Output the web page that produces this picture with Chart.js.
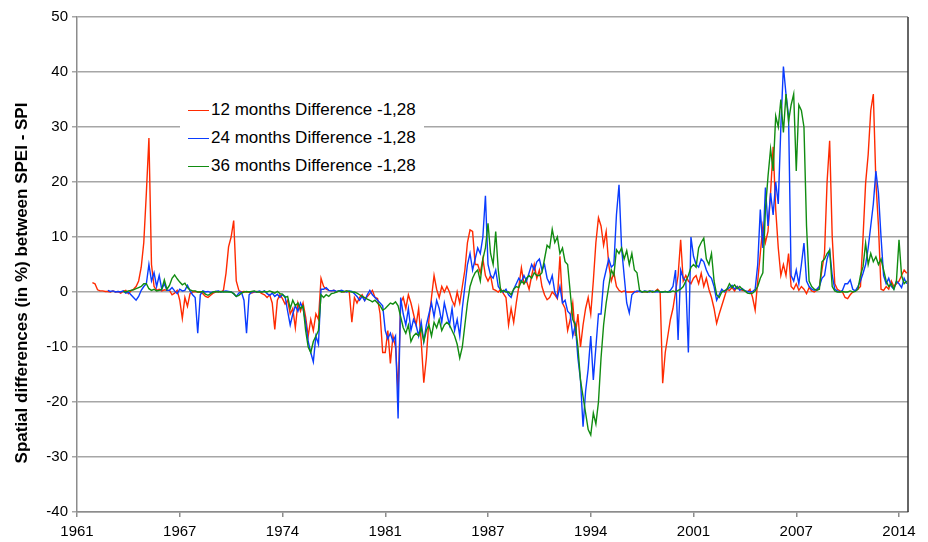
<!DOCTYPE html>
<html>
<head>
<meta charset="utf-8">
<script src="https://cdn.jsdelivr.net/npm/chart.js@4.4.1/dist/chart.umd.min.js"></script>
<style>
body { margin: 0; background: #fff; }
#wrap { position: relative; width: 928px; height: 542px; }
#legend { position: absolute; left: 180px; top: 93px; width: 244px; height: 86px; background: #fff;
  font: 17px "Liberation Sans", Arial, sans-serif; color: #000; }
.row { position: absolute; left: 8px; height: 20px; line-height: 20px; white-space: nowrap; }
.ln { display: inline-block; width: 21px; height: 1.5px; vertical-align: middle; margin-right: 2px; }
#ytitle { position: absolute; left: -178px; top: 273px; width: 400px; height: 20px; line-height: 20px;
  text-align: center; transform: rotate(-90deg); font: bold 17px "Liberation Sans", Arial, sans-serif; color: #000; }
</style>
</head>
<body>
<div id="wrap">
  <canvas id="chart" width="928" height="542"></canvas>
  <div id="legend"></div>
  <div id="ytitle">Spatial differences (in %) between SPEI - SPI</div>
</div>
<script>
// monthly series from Jan 1961, one value every 2 months (12 values = 2 years per row)
const startYear = 1961;
const monthsPerValue = 2;
const seriesNames = ['12 months Difference -1,28', '24 months Difference -1,28', '36 months Difference -1,28'];
const seriesColors = ['#ff2a00', '#0a3cff', '#118c11'];

const red12 = [
  null, null, null, null, null, null, 1.7, 1.5, 0.4, 0.2, 0.2, 0.1,
  0.1, 0, 0.2, 0, 0.1, -0.2, 0.1, 0.3, -0.3, 0.2, 0.5, 1,
  2, 4.5, 9, 18, 28, 5, 1, 0.3, 0.5, 0.2, 0.4, 0.3,
  0.3, -0.5, -0.2, 0.3, -1.5, -4.8, -1, -2.6, -0.3, 0, 0.1, 0,
  0, -0.3, -0.8, -1, -0.6, -0.2, 0, 0.1, 0, 0.3, 3.4, 8.2,
  10, 13, 2, 0.3, 0, 0.1, 0, 0, -0.2, 0, 0.1, 0,
  -0.3, -0.5, -1, -0.5, -2, -6.8, -1.5, -0.5, -1.2, -2.2, -1.5, -4,
  -3, -6.5, -2, -3.5, -2, -4.5, -8, -5, -7, -4, -5, 2.5,
  1, 0.5, 0.3, 0.2, 0.3, 0, 0.2, 0.1, 0, 0.2, 0, -5.5,
  -1, -2, -1, -0.5, -1.5, -0.8, -0.3, 0.3, -1, -1.2, -4, -11,
  -11, -7, -13, -8, -10, -18, -2, -1, -3, -0.5, -2, -4,
  -6, -3, -9, -16.5, -12, -5, -1, 3, 0.5, -1, 1, 0,
  1, 0, -1.5, -2.5, 0, -2, 1, 4, 9, 11.3, 11, 5,
  5, 3.5, 6, 3, 2, 3, 0.5, 0.3, 0, 0.5, -0.3, -1,
  -6, -3, -5.5, -2, 1, 4.4, 1.5, 2, 0.5, 3, 5, 2.5,
  4, 1, -0.5, -1.4, -1, 0, -0.5, -1.2, 6.5, -2, -3, -7,
  -5, -2, -8, -4, -10, -6, -3, -1, -4, 2, 9, 13.5,
  12, 8.5, 11, 5, 2, 3.5, 1, 0.3, 0, 0.2, 0, 0,
  0, 0.1, 0, 0.2, 0, 0.1, 0, 0.2, 0, 0.1, 0.5, 0,
  -16.6, -11, -8, -5, -3, 0, 3, 9.5, 2, 3, 2, 1.5,
  2.5, 3, 1.5, 3.4, 1, 2.5, 0.5, -1, -3, -5.7, -4, -2.5,
  -1, 0.5, 0.3, 0.8, 0.2, 1, 0.5, 0.3, 0.2, 0, 0.5, -1,
  -3.3, 2, 7, 12, 9, 11, 18, 26.4, 15, 8, 3, 5,
  3, 7, 1, 0.5, 1.5, 0.3, 1, 0.5, -0.3, 0.8, 0.2, 0,
  0.3, 1, 4, 7, 20, 27.5, 10, 1.5, 0.5, 0.2, 0, -1,
  -1.2, -0.5, 0, 0.2, 0.5, 1, 10, 19.8, 25, 33, 36, 20,
  12, 0.5, 0.3, 1, 0.5, 2, 1, 1.5, 2, 3, 4, 3.4
];

const blue24 = [
  null, null, null, null, null, null, null, null, null, null, null, null,
  0.3, 0.1, 0.2, 0, 0.1, 0, 0.2, -0.2, 0, -0.5, -1, -1.5,
  -0.8, 0.3, 1, 1.5, 5, 2, 3.5, 1, 3, 0.5, 1.5, 0.3,
  0.3, 0.8, 0.2, -0.3, 0.5, 0.2, 0.3, 1.2, 0.2, -0.5, -1, -7.5,
  -0.5, 0.2, 0, 0.1, -0.1, 0, 0.1, 0.2, 0, 0.1, 0.2, 0.1,
  0, -0.3, -0.8, -0.2, 0, -1.5, -7.5, -0.5, 0, 0.1, 0, 0.2,
  0, 0.2, -0.3, -0.6, -0.2, -0.8, -0.4, -1, -0.5, -0.8, -3.5, -6,
  -4, -2.5, -3.5, -2, -3, -5.5, -9, -11, -12.7, -8, -9.5, 0.5,
  0.5, 0.8, 0.3, 0.2, 0.3, 0.1, 0.2, 0.3, 0.1, 0, 0.2, 0.1,
  -0.3, -0.8, -1.5, -0.8, -1.6, -0.5, 0.3, -0.5, -1, -1.5, -2, -2.5,
  -7, -8.5, -7.5, -9, -8, -23, -1, -4, -6, -3, -7, -5,
  -6, -8, -5.5, -9, -6, -4, -2, -4.5, -1.5, -3, -5.5, -2,
  -4, -6, -3, -7, -5, -8, -3, 1, 5, 7, 4, 6,
  8, 7, 10, 17.5, 5, 3, 2.5, 4, 1, 0.3, 0, 0.5,
  -0.5, -1, 0.5, 1.5, 2.5, 1.8, 3, 2, 3.5, 5, 4, 5.5,
  6, 4, 5, 2.5, 1.5, 3, 0, -1, 1, -2, -1.5, -3.5,
  -4, -8, -6, -12, -16, -24.5, -18, -14, -8, -16, -10, -4,
  -4, 2, 4, 6, 4.5, 5, 14, 19.5, 8, 3, -2, -3.8,
  -0.5, 0, 0.2, 0.1, 0, 0.2, 0.1, 0, 0.2, 0, 0.1, 0,
  0, 0.1, 0, 0.3, 1, 4, -8.7, 4, 2.5, 2, -11, 10,
  6.5, 5, 4.5, 6, 5.5, 4, 3, 2.5, 1, -1.5, -0.5, 0.5,
  0, 0.5, 0.8, 1.2, 0.5, 1, 0.3, 0.6, 0.2, 0.1, 0, 0.1,
  0.5, 5, 15, 8, 19, 12, 18, 14, 20, 16, 30, 41,
  36, 32, 3, 2, 4, 1.5, 5, 8.9, 2, 1, 0.5, 0.3,
  0.5, 1, 2.5, 3, 6, 7.6, 3, 0.5, 0.2, 0, 0.3, 1.5,
  1.5, 2.2, 0.5, 0.2, 1, 2, 3.4, 5, 8, 12, 16, 22,
  18, 10, 3, 1.5, 2.5, 1, 0.5, 2, 1.5, 0.8, 2.5, 1.5
];

const green36 = [
  null, null, null, null, null, null, null, null, null, null, null, null,
  null, null, null, null, null, null, 0.1, 0, 0.2, 0.3, 0.4, 0.6,
  0.8, 1, 1.5, 1.5, 0.6, 0.3, 0.5, 0.2, 0.3, 0.5, 2.2, 0.5,
  1.2, 2.5, 3.1, 2.4, 1.8, 1.3, 1.6, 0.8, 0.4, 0.2, 0.2, 0,
  0, 0.1, -0.4, -0.6, -0.3, 0, 0.1, 0, 0.1, 0, 0, 0,
  0, -0.3, -0.8, -0.6, -0.2, 0, 0.1, 0, 0.1, 0.2, 0, 0,
  0, 0.1, 0, 0.2, 0, -0.2, 0.1, -0.3, -0.4, -1, -0.8, -3,
  -1.5, -2.5, -2, -3, -2.5, -7, -10, -11, -9, -8, -7, -0.5,
  -1, -0.5, -0.8, -0.3, -0.2, 0, 0.2, 0, 0.1, 0.2, 0.1, 0,
  0, -0.2, -0.5, -0.8, -1, -1.3, -1.5, -1.8, -1.5, -2, -2.5, -3.3,
  -3, -2.5, -2, -2.2, -1.8, -2.5, -4.5, -6.5, -7.5, -6, -9, -8,
  -7.5, -8, -6.5, -9, -7, -6, -8, -5.5, -6.5, -5, -7, -6,
  -5.5, -6, -7, -8, -9.5, -12, -10, -6, -2, 1, 2.5, 3.5,
  4, 2, 6, 8, 12.5, 7, 5, 11, 4, 0, 0.3, 0,
  0, -0.5, 0.5, 1, 0.8, 2, 1.5, 2.5, 3, 2.5, 3.5, 3,
  3, 3.5, 6, 8.5, 8, 11.4, 9, 10, 7, 8, 5.5, 5,
  0, -5, -6, -10, -16, -19, -22, -25, -26, -22, -24, -20,
  -12, -6, -2, 1, 4, 3, 7.7, 7, 8, 6, 7.5, 5,
  7, 4, 3.5, 0.3, 0, 0.1, 0, 0.2, 0, 0.1, 0.3, 0,
  0, 0.1, 0, 0, 0.2, 0, 0.3, 0.5, 1, 2, 3, 4.5,
  5, 4.5, 8, 9, 9.8, 6, 5, 7, 2, -0.5, -1, 0,
  0.2, 0.5, 1.5, 0.8, 1.3, 0.6, 1, 0.5, 0.2, -0.2, -0.3, -0.2,
  0.2, 1, 2.5, 3.5, 15, 21, 26, 22, 32, 30, 35, 29,
  36, 31, 34, 36, 22, 34, 33, 30, 12, 2, 1, 0.5,
  0.3, 0.5, 5.5, 6, 7, 7.6, 1, 0.2, 0, 0, 0.1, 0,
  0, 0.2, 0, 0.1, 0.5, 3, 4.6, 8.9, 5, 7, 5.5, 6.4,
  5, 6, 4, 2, 1, 1.5, 0.5, 2, 9.5, 3, 1.5, 2
];

const yMin = -40, yMax = 50, yStep = 10;
const tickEveryMonths = 80;
const lastMonth = 647;

function toPoints(values) {
    return values.map((v, i) => ({ x: i * monthsPerValue, y: v }));
}

const allSeries = [red12, blue24, green36];

const rightBorder = {
    id: 'rightBorder',
    afterDraw(chart) {
        const a = chart.chartArea;
        const ctx = chart.ctx;
        ctx.save();
        ctx.strokeStyle = '#333';
        ctx.lineWidth = 1.5;
        ctx.beginPath();
        ctx.moveTo(a.right, a.top);
        ctx.lineTo(a.right, a.bottom);
        ctx.stroke();
        ctx.restore();
    }
};

Chart.defaults.font.family = '"Liberation Sans", Arial, sans-serif';
Chart.defaults.color = '#000';

new Chart(document.getElementById('chart'), {
    type: 'line',
    data: {
        datasets: allSeries.map((vals, k) => ({
            label: seriesNames[k],
            data: toPoints(vals),
            borderColor: seriesColors[k],
            borderWidth: 1.4,
            pointRadius: 0,
            tension: 0,
            order: 3 - k
        }))
    },
    options: {
        responsive: false,
        animation: false,
        layout: { padding: { top: 17, right: 20, left: 0, bottom: 0 } },
        plugins: { legend: { display: false }, tooltip: { enabled: false } },
        scales: {
            x: {
                type: 'linear',
                min: 0,
                max: lastMonth,
                afterFit: s => { s.height = 30; },
                ticks: {
                    stepSize: tickEveryMonths,
                    includeBounds: false,
                    autoSkip: false,
                    maxRotation: 0,
                    padding: 6,
                    font: { size: 15 },
                    callback: v => startYear + Math.floor(v / 12)
                },
                grid: { drawOnChartArea: false, tickLength: 5, color: '#8c8c8c', lineWidth: 1.5 },
                border: { color: '#8c8c8c', width: 1.5 }
            },
            y: {
                min: yMin,
                max: yMax,
                afterFit: s => { s.width = 77; },
                ticks: { stepSize: yStep, padding: 4, font: { size: 15 } },
                grid: { color: '#a6a6a6', lineWidth: 1.5, tickLength: 5 },
                border: { color: '#8c8c8c', width: 1.5 }
            }
        }
    },
    plugins: [rightBorder]
});

const legend = document.getElementById('legend');
seriesNames.forEach((name, k) => {
    const row = document.createElement('div');
    row.className = 'row';
    row.style.top = (7 + k * 28) + 'px';
    row.innerHTML = '<span class="ln" style="background:' + seriesColors[k] + '"></span>' + name;
    legend.appendChild(row);
});
</script>
</body>
</html>
